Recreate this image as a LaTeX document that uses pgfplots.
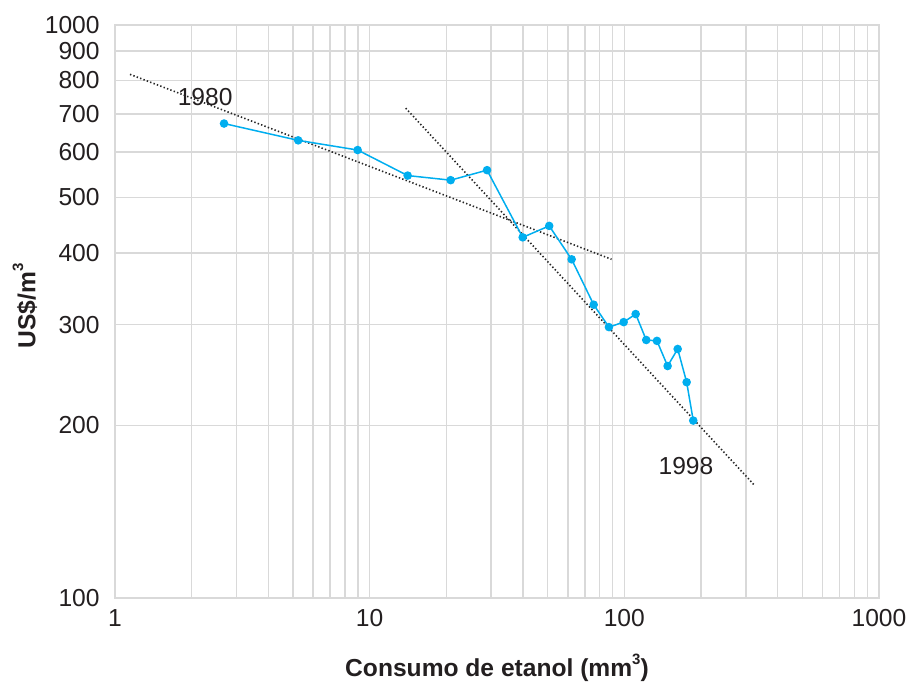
\documentclass[border=0pt]{standalone}
\usepackage{pgfplots}
\pgfplotsset{compat=1.18}
\usepackage{fontspec}
\setmainfont{Liberation Sans}
\definecolor{gridgray}{RGB}{217,217,217}
\definecolor{cyanline}{RGB}{0,174,239}
\definecolor{txt}{RGB}{35,31,32}
\newcommand{\supthree}{\raisebox{0.5em}{\fontsize{7.5}{8}\selectfont 3}}
\begin{document}
\begin{tikzpicture}
\fontsize{12.3}{14.5}\selectfont
\begin{axis}[
  at={(0,0)}, anchor=south west,
  xmode=log, ymode=log,
  scale only axis,
  width=382pt, height=286.5pt,
  xmin=1, xmax=1000, ymin=100, ymax=1000,
  xtick={1,10,100,1000},
  xticklabels={1,10,100,1000},
  minor xtick={2,3,4,5,6,7,8,9,20,30,40,50,60,70,80,90,200,300,400,500,600,700,800,900},
  ytick={100,200,300,400,500,600,700,800,900,1000},
  yticklabels={100,200,300,400,500,600,700,800,900,1000},
  minor ytick={},
  grid=both,
  major grid style={gridgray, line width=0.75pt},
  minor grid style={gridgray, line width=0.75pt},
  axis line style={gridgray, line width=0.75pt},
  tick style={draw=none},
  /pgf/number format/assume math mode=true,
  tick label style={font=\fontsize{12.3}{14.5}\selectfont, text=txt},
  yticklabel style={inner sep=0pt, anchor=east, xshift=-7.5pt},
  xticklabel style={inner sep=0pt, anchor=north, yshift=-5.5pt},
  xlabel={\textbf{Consumo de etanol (mm\supthree)}},
  ylabel={\textbf{US\$/m\supthree}},
  xlabel style={at={(axis description cs:0.5,-0.1222)}, anchor=center, font=\fontsize{12.3}{14.5}\selectfont, text=txt},
  ylabel style={at={(axis description cs:-0.1178,0.51)}, anchor=center, rotate=0, font=\fontsize{12.3}{14.5}\selectfont, text=txt},
  clip=false,
]
\addplot[color=black!85, line width=0.8pt, dash pattern=on 0.7pt off 1.1pt] coordinates {(1.145,820) (89.1,390)};
\addplot[color=black!85, line width=0.8pt, dash pattern=on 0.7pt off 1.1pt] coordinates {(13.85,716) (325.7,157)};
\addplot[color=cyanline, line width=0.75pt, mark=*, mark size=1.75pt, mark options={fill=cyanline, draw=cyanline}] coordinates {
(2.68,673) (5.24,629) (8.97,605) (14.1,546) (20.8,536) (28.9,558) (39.9,426) (50.7,446) (62.1,390) (75.8,325) (87.0,297) (99.4,303) (110.8,313) (121.9,282) (134.3,281) (147.9,254) (162,272) (175.7,238) (186.5,204)
};
\node[text=txt, font=\fontsize{12.3}{14.5}\selectfont] at (axis cs:2.26,749) {1980};
\node[text=txt, font=\fontsize{12.3}{14.5}\selectfont] at (axis cs:174.6,170) {1998};
\end{axis}
\pgfresetboundingbox
\path (-57.5pt,-42.5pt) rectangle (397.5pt,299pt);
\end{tikzpicture}
\end{document}
